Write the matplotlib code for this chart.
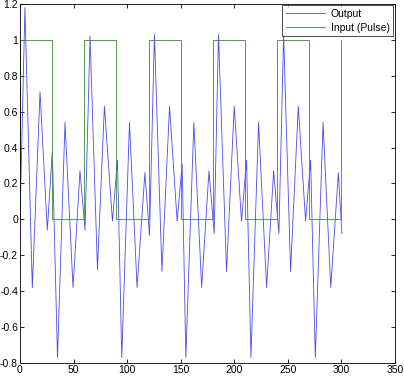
import numpy as np
import matplotlib
matplotlib.use('Agg')
import matplotlib.pyplot as plt

plt.rcParams['font.family'] = ['Liberation Sans', 'DejaVu Sans']

# output signal (turning points)
out_t = [0, 4.6, 11.5, 18.7, 25.5, 30.2, 35.0, 42.0, 49.5, 56.0,
         60.7, 65.4, 72.3, 78.8, 86.3, 91.0, 95.0, 102.2, 109.3, 116.6,
         120.9, 125.5, 132.5, 139.6, 146.7, 151.4, 154.8, 162.3, 169.6, 176.4,
         181.3, 185.3, 192.8, 200.0, 206.8, 211.5, 215.6, 222.7, 230.2, 236.8,
         241.7, 246.1, 252.6, 259.8, 266.6, 271.3, 275.7, 282.9, 290.1, 297.2,
         300.5]
out_y = [0.0, 1.18, -0.38, 0.71, -0.06, 0.38, -0.77, 0.54, -0.38, 0.27,
         -0.06, 1.02, -0.28, 0.63, -0.01, 0.33, -0.77, 0.54, -0.38, 0.26,
         -0.09, 1.03, -0.29, 0.63, -0.01, 0.31, -0.77, 0.54, -0.38, 0.27,
         -0.08, 1.03, -0.29, 0.63, -0.01, 0.33, -0.77, 0.54, -0.38, 0.27,
         -0.08, 1.03, -0.29, 0.63, -0.01, 0.33, -0.77, 0.54, -0.38, 0.26,
         -0.08]

# input pulse
in_t = [0, 0, 30, 30, 60, 60, 90, 90, 120, 120, 150, 150, 180, 180,
        210, 210, 240, 240, 270, 270, 300, 300]
in_y = [0, 1, 1, 0, 0, 1, 1, 0, 0, 1, 1, 0, 0, 1,
        1, 0, 0, 1, 1, 0, 0, 1]

fig = plt.figure(figsize=(4.04, 3.76), dpi=100)
ax = fig.add_axes([0.0495, 0.0346, 0.928, 0.955])

ax.plot(out_t, out_y, color='#4a4aee', lw=0.6, label='Output')
ax.plot(in_t, in_y, color='#3a8a3a', lw=0.6, label='Input (Pulse)')

ax.set_xlim(0, 350)
ax.set_ylim(-0.8, 1.2)
ax.set_xticks(np.arange(0, 351, 50))
ax.set_yticks(np.arange(-0.8, 1.21, 0.2))
ax.set_yticklabels(['-0.8', '-0.6', '-0.4', '-0.2', '0', '0.2', '0.4',
                    '0.6', '0.8', '1', '1.2'])
ax.tick_params(direction='in', length=3, width=0.6, top=True, right=True,
               labelsize=7.5, pad=1.5)
for s in ax.spines.values():
    s.set_linewidth(0.6)

leg = ax.legend(loc='upper right', fontsize=7.5, frameon=True, fancybox=False,
                borderaxespad=0.15, handlelength=3.8, borderpad=0.35,
                labelspacing=0.35, handletextpad=0.5)
leg.get_frame().set_edgecolor('black')
leg.get_frame().set_linewidth(0.6)

fig.savefig('out.png', dpi=100)
